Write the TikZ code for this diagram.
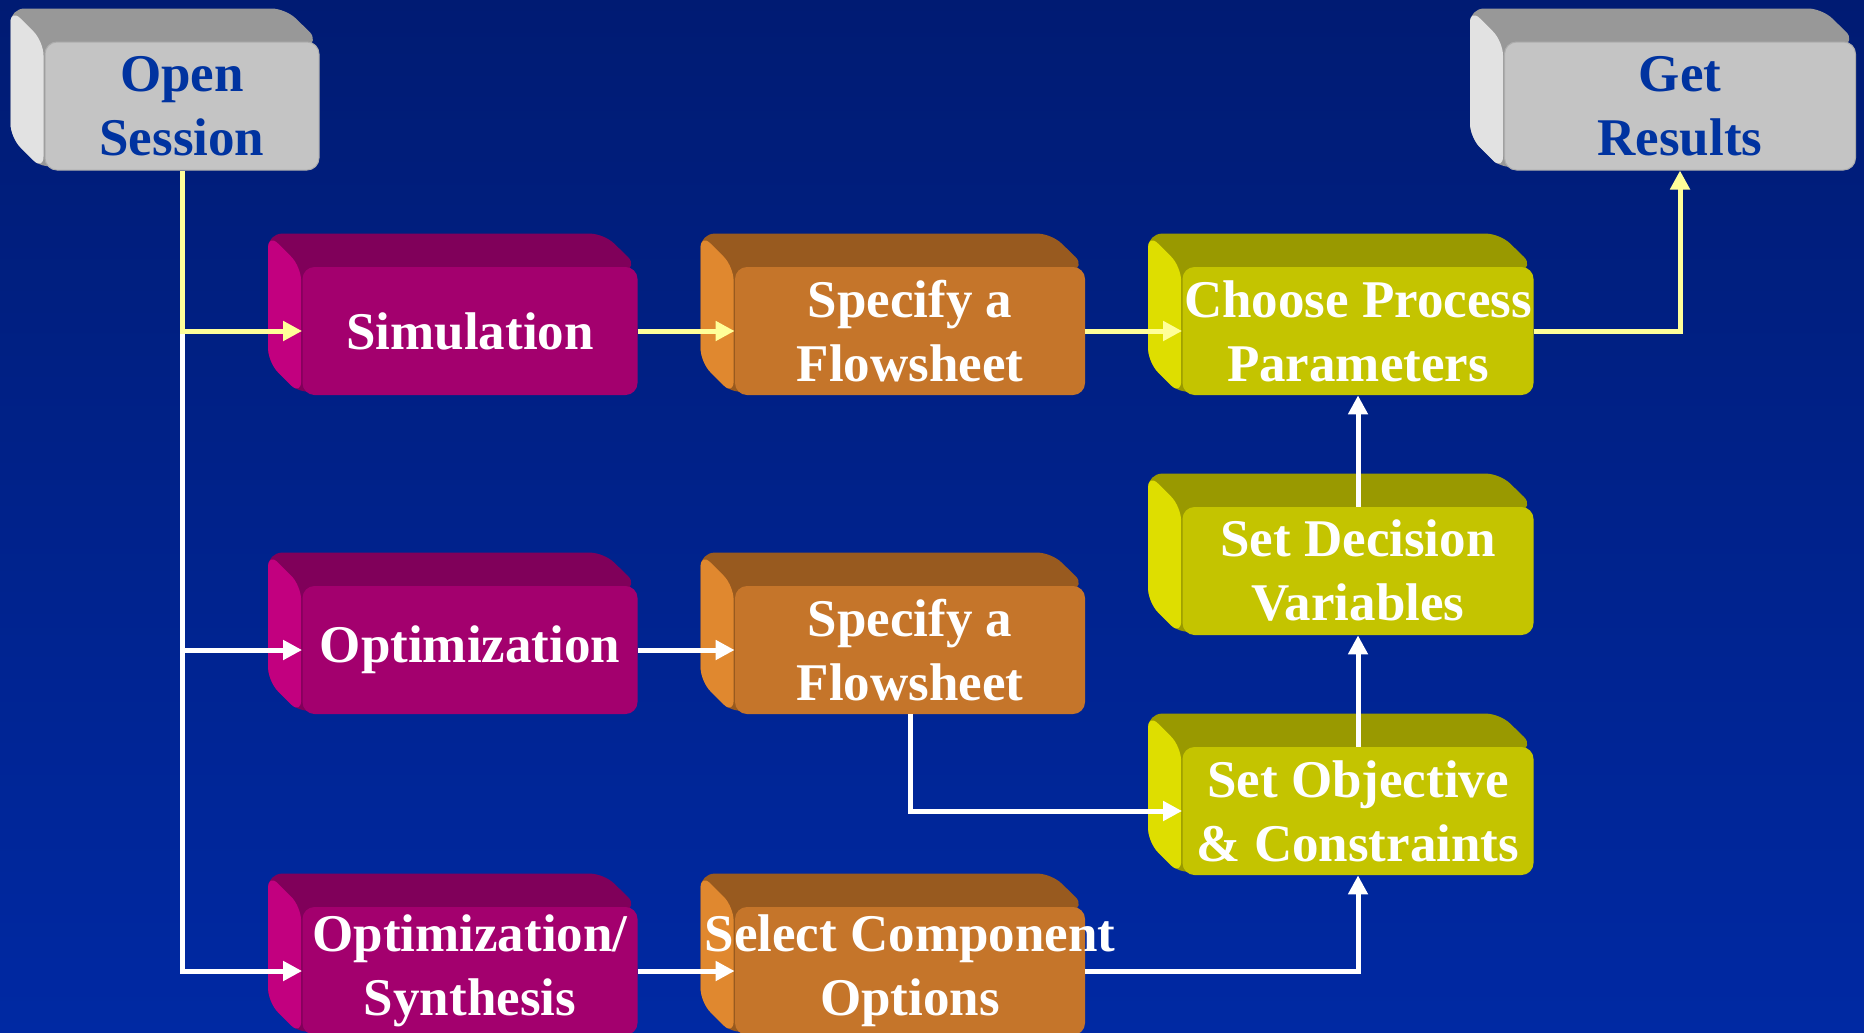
\documentclass[tikz,border=0pt]{standalone}
\usepackage{fontspec}
\setmainfont{Liberation Serif}
\usetikzlibrary{arrows.meta,calc}

\pgfdeclarelayer{canvas}
\pgfdeclarelayer{bg}
\pgfsetlayers{canvas,bg,main}

% palette
\definecolor{bgtop}{HTML}{001B73}
\definecolor{bgbot}{HTML}{0029A3}
\definecolor{grayF}{HTML}{C4C4C4}
\definecolor{grayT}{HTML}{989898}
\definecolor{grayS}{HTML}{E2E2E2}
\definecolor{magF}{HTML}{A3006E}
\definecolor{magT}{HTML}{80005A}
\definecolor{magS}{HTML}{C2007F}
\definecolor{oraF}{HTML}{C5752A}
\definecolor{oraT}{HTML}{985A1F}
\definecolor{oraS}{HTML}{E0882F}
\definecolor{yelF}{HTML}{C4C400}
\definecolor{yelT}{HTML}{999900}
\definecolor{yelS}{HTML}{DEDE00}
\definecolor{txtblue}{HTML}{0033A0}
\definecolor{flowyellow}{HTML}{FFFF99}

\tikzset{
  cube/.style={rounded corners=6pt, minimum height=64pt, align=center,
    inner sep=0pt, text=white,
    font=\bfseries\fontsize{26.5}{32}\selectfont},
  graybox/.style={cube, fill=grayF, draw=grayT!80, line width=0.5pt, text=txtblue},
  magbox/.style={cube, fill=magF, minimum width=167.5pt},
  orabox/.style={cube, fill=oraF, minimum width=175pt},
  yelbox/.style={cube, fill=yelF, minimum width=175.5pt},
  flow/.style={line width=2.5pt, -{Triangle[length=9.5pt,width=9.5pt]}},
  ylw/.style={flow, draw=flowyellow},
  wht/.style={flow, draw=white}
}

% back part of a box: top face (#2) and left face (#3) behind node #1
\newcommand\extrude[3]{%
  \begin{pgfonlayer}{bg}
    \fill[#2, rounded corners=7pt]
      ([shift={(-34,-33)}]#1.north west) -- ([shift={(-34,-33)}]#1.north east)
      -- (#1.north east) -- (#1.south west)
      -- ([shift={(-34,-33)}]#1.south west) -- cycle;
    \fill[#3, rounded corners=7pt]
      ([shift={(-34,-33)}]#1.north west) -- ([shift={(-1,0)}]#1.north west)
      -- ([shift={(-1,0)}]#1.south west)
      -- ([shift={(-34,-33)}]#1.south west) -- cycle;
  \end{pgfonlayer}}

\begin{document}
\begin{tikzpicture}[x=0.5pt, y=-0.5pt]
  \begin{pgfonlayer}{canvas}
    \shade[top color=bgtop, bottom color=bgbot] (0,0) rectangle (1864,1033);
  \end{pgfonlayer}
  \useasboundingbox (0,0) rectangle (1864,1033);

  % boxes (front faces)
  \node[graybox, minimum width=137pt]   (open)   at (182,106)  {Open\\Session};
  \node[graybox, minimum width=175.5pt] (get)    at (1680,106) {Get\\Results};

  \node[magbox] (sim)    at (470,331) {Simulation};
  \node[magbox] (opt)    at (470,650) {Optimization};
  \node[magbox] (optsyn) at (470,971) {Optimization/\\Synthesis};

  \node[orabox] (spec1)  at (910,331) {Specify a\\Flowsheet};
  \node[orabox] (spec2)  at (910,650) {Specify a\\Flowsheet};
  \node[orabox] (select) at (910,971) {\makebox[150pt]{Select Component}\\Options};

  \node[yelbox] (choose) at (1358,331) {Choose Process\\Parameters};
  \node[yelbox] (setdec) at (1358,571) {Set Decision\\Variables};
  \node[yelbox] (setobj) at (1358,811) {Set Objective\\\& Constraints};

  % extruded backs
  \extrude{open}{grayT}{grayS}
  \extrude{get}{grayT}{grayS}
  \extrude{sim}{magT}{magS}
  \extrude{opt}{magT}{magS}
  \extrude{optsyn}{magT}{magS}
  \extrude{spec1}{oraT}{oraS}
  \extrude{spec2}{oraT}{oraS}
  \extrude{select}{oraT}{oraS}
  \extrude{choose}{yelT}{yelS}
  \extrude{setdec}{yelT}{yelS}
  \extrude{setobj}{yelT}{yelS}

  % white connectors
  \coordinate (trunk) at (open.south |- sim.west);
  \draw[wht] (trunk) |- (optsyn.west);
  \draw[wht] (trunk |- opt.west) -- (opt.west);
  \draw[wht] (opt.east) -- (spec2.west);
  \draw[wht] (optsyn.east) -- (select.west);
  \draw[wht] (select.east) -| (setobj.south);
  \draw[wht] (spec2.south) |- (setobj.west);
  \draw[wht] (setobj.north) -- (setdec.south);
  \draw[wht] (setdec.north) -- (choose.south);

  % yellow connectors (simulation path)
  \draw[ylw] (open.south) |- (sim.west);
  \draw[ylw] (sim.east) -- (spec1.west);
  \draw[ylw] (spec1.east) -- (choose.west);
  \draw[ylw] (choose.east) -| (get.south);
\end{tikzpicture}
\end{document}
